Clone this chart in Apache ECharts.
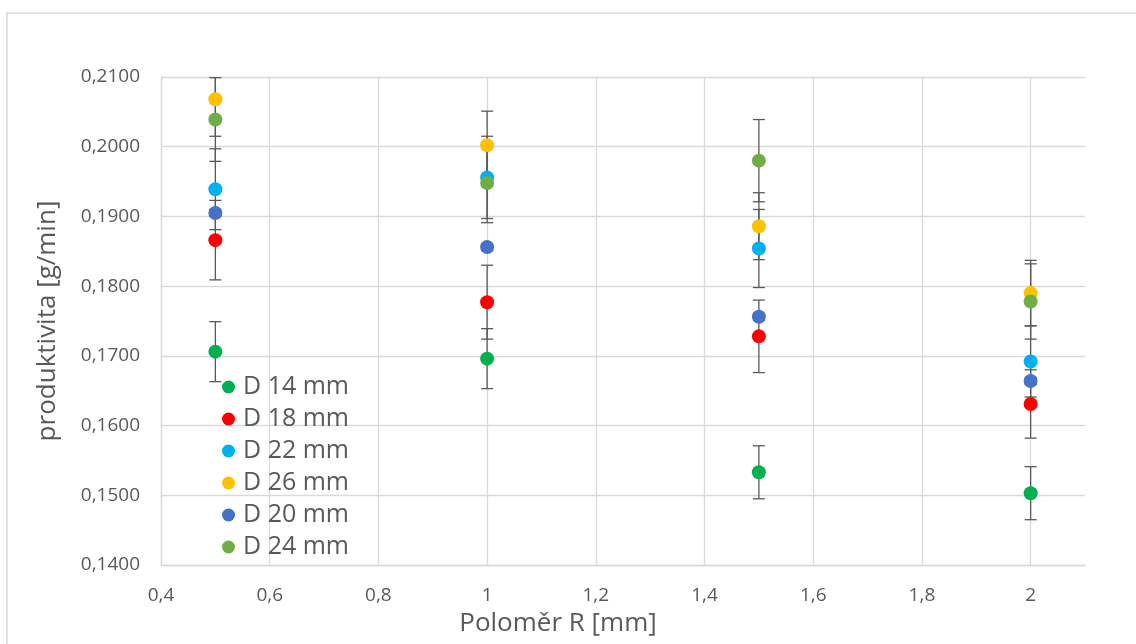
<!DOCTYPE html>
<html>
<head>
<meta charset="utf-8">
<script src="https://cdn.jsdelivr.net/npm/echarts@6/dist/echarts.min.js"></script>
<style>
  html, body { margin: 0; padding: 0; background: #fff; }
  #chart { width: 1136px; height: 644px; }
</style>
</head>
<body>
<div id="chart"></div>
<script>
// poloměr R [mm]
const radii = [0.5, 1, 1.5, 2];

// produktivita [g/min] po průměrech D
const d14 = [0.1706, 0.1696, 0.1533, 0.1503];
const d18 = [0.1866, 0.1777, 0.1728, 0.1631];
const d22 = [0.1939, 0.1956, 0.1854, 0.1692];
const d26 = [0.2068, 0.2002, 0.1886, 0.1790];
const d20 = [0.1905, 0.1856, 0.1756, 0.1664];
const d24 = [0.2039, 0.1948, 0.1980, 0.1778];

// chybové úsečky (±)
const d14Err = [0.0043, 0.0043, 0.0038, 0.0038];
const d18Err = [0.0057, 0.0053, 0.0052, 0.0049];
const d22Err = [0.0058, 0.0059, 0.0056, 0.0051];
const d26Err = [0.0053, 0.0049, 0.0048, 0.0047];
const d20Err = [0.0005, 0.0005, 0.0005, 0.0005];
const d24Err = [0.0060, 0.0057, 0.0059, 0.0054];

const seriesNames = ["D 14 mm", "D 18 mm", "D 22 mm", "D 26 mm", "D 20 mm", "D 24 mm"];
const seriesValues = [d14, d18, d22, d26, d20, d24];
const seriesErrors = [d14Err, d18Err, d22Err, d26Err, d20Err, d24Err];
const seriesColors = ["#00B050", "#FF0000", "#00B0F0", "#FFC000", "#4472C4", "#70AD47"];

const TEXT_COLOR = "#595959";
const GRID_COLOR = "#d9d9d9";
const ERR_COLOR = "#595959";
const FONT = "Open Sans";

const chart = echarts.init(document.getElementById("chart"));

/**
 * vykreslí svislou chybovou úsečku s vodorovnými zakončeními
 */
const renderErrorBar = (params, api) => {
  const x = api.value(0);
  const y = api.value(1);
  const e = api.value(2);
  const top = api.coord([x, y + e]);
  const bot = api.coord([x, y - e]);
  const hw = 6;
  const style = { stroke: ERR_COLOR, lineWidth: 1.3 };
  return {
    type: "group",
    children: [
      { type: "line", shape: { x1: top[0], y1: top[1], x2: bot[0], y2: bot[1] }, style },
      { type: "line", shape: { x1: top[0] - hw, y1: top[1], x2: top[0] + hw, y2: top[1] }, style },
      { type: "line", shape: { x1: bot[0] - hw, y1: bot[1], x2: bot[0] + hw, y2: bot[1] }, style },
    ],
  };
};

const scatterSeries = seriesNames.map((name, i) => ({
  name,
  type: "scatter",
  symbol: "circle",
  symbolSize: 14,
  itemStyle: { color: seriesColors[i], opacity: 1 },
  z: 2 + i,
  data: radii.map((r, k) => [r, seriesValues[i][k]]),
}));

const errorSeries = seriesNames.map((name, i) => ({
  name,
  type: "custom",
  renderItem: renderErrorBar,
  clip: true,
  silent: true,
  z: 1,
  itemStyle: { color: seriesColors[i] },
  encode: { x: 0, y: 1 },
  data: radii.map((r, k) => [r, seriesValues[i][k], seriesErrors[i][k]]),
}));

const option = {
  animation: false,
  textStyle: { fontFamily: FONT },
  graphic: [
    {
      type: "rect",
      shape: { x: 7, y: 13, width: 1200, height: 700 },
      style: { fill: "none", stroke: GRID_COLOR, lineWidth: 1.5 },
      z: -10,
    },
  ],
  grid: { left: 161, right: 51, top: 77, bottom: 79 },
  legend: {
    orient: "vertical",
    left: 217,
    top: 369,
    icon: "circle",
    itemWidth: 13,
    itemHeight: 13,
    itemGap: 6,
    data: seriesNames.map((name, i) => ({ name, icon: "circle", itemStyle: { color: seriesColors[i] } })),
    textStyle: { color: TEXT_COLOR, fontSize: 25, fontFamily: FONT, lineHeight: 26, padding: [0, 0, 0, 3] },
  },
  xAxis: {
    type: "value",
    min: 0.4,
    max: 2.1,
    interval: 0.2,
    name: "Poloměr R [mm]",
    nameLocation: "middle",
    nameGap: 46,
    nameTextStyle: { color: TEXT_COLOR, fontSize: 26, fontFamily: FONT, padding: [0, 130, 0, 0] },
    axisLine: { show: true, lineStyle: { color: GRID_COLOR, width: 1.3 } },
    axisTick: { show: false },
    axisLabel: {
      color: TEXT_COLOR,
      fontSize: 19,
      margin: 21,
      showMaxLabel: false,
      formatter: (v) => String(+v.toFixed(2)).replace(".", ","),
    },
    splitLine: { show: true, showMaxLine: false, lineStyle: { color: GRID_COLOR, width: 1.3 } },
  },
  yAxis: {
    type: "value",
    min: 0.14,
    max: 0.21,
    interval: 0.01,
    name: "produktivita [g/min]",
    nameLocation: "middle",
    nameGap: 100,
    nameTextStyle: { color: TEXT_COLOR, fontSize: 26, fontFamily: FONT },
    axisLine: { show: true, lineStyle: { color: GRID_COLOR, width: 1.3 } },
    axisTick: { show: false },
    axisLabel: {
      color: TEXT_COLOR,
      fontSize: 19,
      margin: 21,
      formatter: (v) => v.toFixed(4).replace(".", ","),
    },
    splitLine: { show: true, lineStyle: { color: GRID_COLOR, width: 1.3 } },
  },
  series: [...scatterSeries, ...errorSeries],
};

chart.setOption(option);
</script>
</body>
</html>
